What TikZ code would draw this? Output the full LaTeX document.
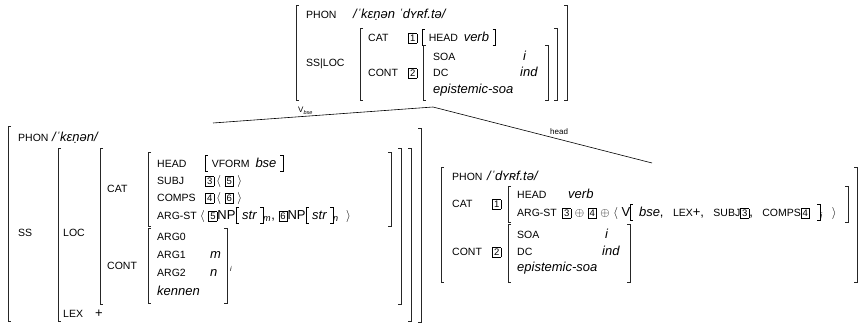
\documentclass[tikz,border=0pt]{standalone}
\usepackage{fontspec}
\setmainfont{Liberation Sans}
\newcommand\ft[1]{{\fontsize{10.5}{12}\selectfont\upshape #1}}
\newcommand\vl[1]{{\fontsize{13}{15}\selectfont\itshape #1}}
\newcommand\tg[1]{{\setlength\fboxsep{1pt}\setlength\fboxrule{0.5pt}\fbox{\makebox[6pt]{\fontsize{9.5}{9.5}\selectfont\upshape\rule{0pt}{7pt}#1}}}}
\newcommand\lbk{\rule[-4pt]{0.5pt}{17pt}\kern-0.5pt\rule[-4pt]{3pt}{0.5pt}\kern-3pt\rule[12.5pt]{3pt}{0.5pt}}
\newcommand\rbk{\rule[-4pt]{3pt}{0.5pt}\kern-3pt\rule[12.5pt]{3pt}{0.5pt}\kern-0.5pt\rule[-4pt]{0.5pt}{17pt}}
\newcommand\sbi[1]{\textsubscript{\itshape #1}}
\newcommand\LB[3]{\draw[brk] (#1+3,#2) -- (#1,#2) -- (#1,#3) -- (#1+3,#3);}
\newcommand\RB[3]{\draw[brk] (#1-3,#2) -- (#1,#2) -- (#1,#3) -- (#1-3,#3);}
\tikzset{
 ft/.style={anchor=base west, inner sep=0pt, font=\fontsize{10.5}{12}\selectfont},
 vl/.style={anchor=base west, inner sep=0pt, font=\fontsize{13}{15}\selectfont\itshape},
 mx/.style={anchor=base west, inner sep=0pt, font=\fontsize{13}{15}\selectfont},
 brk/.style={line width=0.5pt, black!85},
 lbl/.style={anchor=base west, inner sep=0pt, font=\fontsize{8}{9}\selectfont},
 edge/.style={line width=0.6pt},
}
\begin{document}
\begin{tikzpicture}[x=1pt,y=-1pt]
\useasboundingbox (0,0) rectangle (860,323);
% ---------- top AVM ----------
\LB{296}{5}{100} \RB{567}{5}{100}
\node[ft] (tphon) at (306,19) {PHON};
\node[vl] (tphonv) at (353,19) {/ˈkɛṇən ˈdʏʀf.tə/};
\node[ft] (tssloc) at (306,67) {SS|LOC};
\LB{360}{28}{100} \RB{557}{28}{100}
\node[ft] (tcat) at (368,42) {CAT};
\node[mx] (ttag1) at (408,42) {\tg{1}};
\node[mx] (thead) at (422,42) {\lbk\ \ft{HEAD}\, \vl{verb}\ \rbk};
\node[ft] (tcont) at (368,77) {CONT};
\node[mx] (ttag2) at (408,77) {\tg{2}};
\LB{423}{45}{100} \RB{548}{45}{100}
\node[ft] (tsoa) at (433,61) {SOA};
\node[vl] (tsoav) at (523,61) {i};
\node[ft] (tdc) at (433,77) {DC};
\node[vl] (tdcv) at (520,77) {ind};
\node[vl] (tepi) at (433,94) {epistemic-soa};
% ---------- tree ----------
\coordinate (root) at (433,107);
\coordinate (lch) at (213,123);
\coordinate (rch) at (652,163);
\draw[edge] (root) -- (lch);
\draw[edge] (root) -- (rch);
\node[lbl] (vbse) at (298,113) {V\raisebox{-1.5pt}{\fontsize{5.5}{6}\selectfont\itshape bse}};
\node[lbl] (headl) at (550,135) {head};
% ---------- left AVM ----------
\LB{8}{126}{321} \RB{421}{128}{322}
\node[ft] (lphon) at (18,142) {PHON};
\node[vl] (lphonv) at (52,142) {/ˈkɛṇən/};
\node[ft] (lss) at (18,237) {SS};
\LB{58}{148}{321} \RB{411}{148}{321}
\node[ft] (lloc) at (63,237) {LOC};
\LB{100}{148}{304} \RB{401}{148}{304}
\node[ft] (lcat) at (107,193) {CAT};
\node[ft] (lcont) at (107,270) {CONT};
\LB{148}{152}{226} \RB{391}{152}{226}
\LB{148}{228}{303} \RB{227}{228}{303}
\node[ft] (lhead) at (157,168) {HEAD};
\node[mx] (lheadv) at (205,168) {\lbk\ \ft{VFORM}\, \vl{bse}\ \rbk};
\node[ft] (lsubj) at (157,185) {SUBJ};
\node[mx] (lsubjv) at (205,185) {\tg{3}\,$\big\langle$\ \tg{5}\ $\big\rangle$};
\node[ft] (lcomps) at (157,202) {COMPS};
\node[mx] (lcompsv) at (205,202) {\tg{4}\,$\big\langle$\ \tg{6}\ $\big\rangle$};
\node[ft] (largst) at (157,220) {ARG-ST};
\node[mx] (largstv) at (200,220) {$\big\langle$\ \tg{5}NP\lbk\ \vl{str}\ \rbk\sbi{m},\ \tg{6}NP\lbk\ \vl{str}\ \rbk\sbi{n}\ \ $\big\rangle$};
\node[ft] (larg0) at (157,241) {ARG0};
\node[ft] (larg1) at (157,259) {ARG1};
\node[vl] (larg1v) at (210,259) {m};
\node[ft] (larg2) at (157,277) {ARG2};
\node[vl] (larg2v) at (210,277) {n};
\node[vl] (lkennen) at (157,295) {kennen};
\node[lbl, font=\fontsize{7}{8}\selectfont\itshape] (li) at (230,272) {i};
\node[ft] (llex) at (63,318) {LEX};
\node[mx] (llexv) at (95,318) {+};
% ---------- right AVM ----------
\LB{441}{167}{282} \RB{857}{167}{282}
\node[ft] (rphon) at (452,181) {PHON};
\node[vl] (rphonv) at (487,181) {/ˈdʏʀf.tə/};
\node[ft] (rcat) at (452,208) {CAT};
\node[mx] (rtag1) at (492,208) {\tg{1}};
\LB{508}{186}{222} \RB{848}{186}{222}
\node[ft] (rhead) at (517,199) {HEAD};
\node[vl] (rheadv) at (568,199) {verb};
\node[ft] (rargst) at (517,217) {ARG-ST};
\node[mx] (rargstv) at (562,217) {\tg{3}\;$\oplus$\;\tg{4}\;$\oplus$\;$\big\langle$\ V\lbk\ \,\vl{bse},\ \ \,\ft{LEX}+,\ \ \,\ft{SUBJ}\tg{3},\ \ \,\ft{COMPS}\tg{4}\ \ \rbk\sbi{i}\ \ \,$\big\rangle$};
\node[ft] (rcont) at (452,256) {CONT};
\node[mx] (rtag2) at (492,256) {\tg{2}};
\LB{508}{224}{282} \RB{630}{224}{282}
\node[ft] (rsoa) at (517,239) {SOA};
\node[vl] (rsoav) at (605,239) {i};
\node[ft] (rdc) at (517,256) {DC};
\node[vl] (rdcv) at (602,256) {ind};
\node[vl] (repi) at (517,272) {epistemic-soa};
\end{tikzpicture}
\end{document}
